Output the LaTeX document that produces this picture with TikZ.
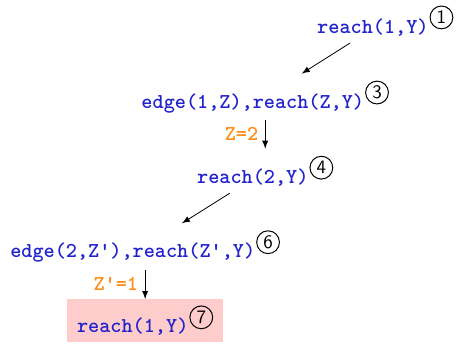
\documentclass[tikz,border=0pt]{standalone}
\usepackage{fontspec}
\definecolor{goalblue}{RGB}{35,35,205}
\definecolor{bindorange}{RGB}{255,140,20}
\newcommand{\goalnr}[1]{\hspace{0.5pt}\tikz[baseline=-7.8pt]\node[circle, draw=black, fill=none, text=black, line width=0.5pt, minimum size=11.4pt, inner sep=0pt, anchor=center, font=\sffamily\mdseries\fontsize{9.5}{9.5}\selectfont] {#1};}

\begin{document}
\begin{tikzpicture}
        \tikzstyle{goal} = [text=goalblue, font=\ttfamily\bfseries\fontsize{10.6}{12}\selectfont, anchor=base]
        \tikzstyle{bind} = [text=bindorange, font=\ttfamily\bfseries\fontsize{10.6}{12}\selectfont]

        \useasboundingbox (0,0) rectangle (8.03,-6.05);

        % goals of the derivation, one per level
        \node[goal] (g1) at (6.77,-0.58) {reach(1,Y)\goalnr{1}};
        \node[goal] (g3) at (4.66,-1.90) {edge(1,Z),reach(Z,Y)\goalnr{3}};
        \node[goal] (g4) at (4.66,-3.22) {reach(2,Y)\goalnr{4}};
        \node[goal] (g6) at (2.55,-4.53) {edge(2,Z'),reach(Z',Y)\goalnr{6}};
        \node[goal, fill=red!20, inner xsep=5pt, inner ysep=3pt] (g7) at (2.55,-5.85) {reach(1,Y)\goalnr{7}};

        % resolution steps
        \draw[-latex] (g1) -- (g3);
        \draw[-latex] (g3) -- node[bind, left] {Z=2} (g4);
        \draw[-latex] (g4) -- (g6);
        \draw[-latex] (g6) -- node[bind, left] {Z'=1} (g7);

\end{tikzpicture}
\end{document}
